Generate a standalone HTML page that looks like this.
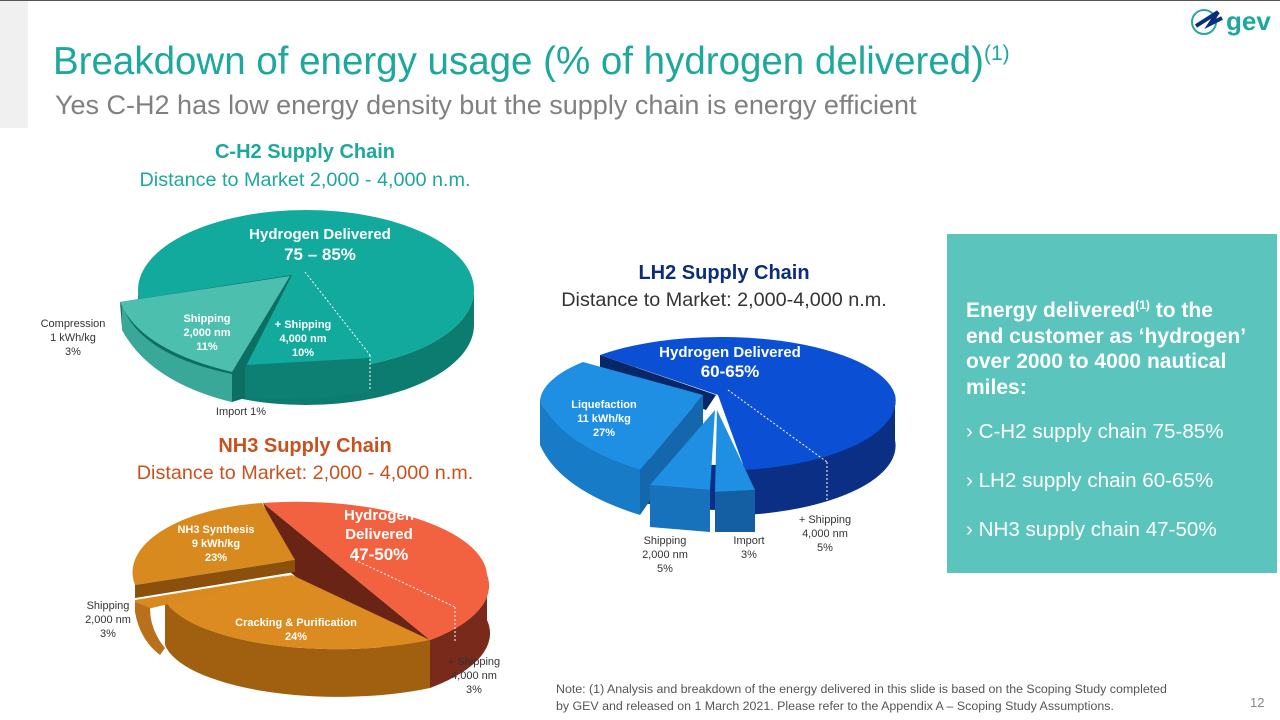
<!DOCTYPE html>
<html><head><meta charset="utf-8"><style>
body{margin:0;width:1280px;height:720px;overflow:hidden;background:#fff;font-family:"Liberation Sans",sans-serif;position:relative}
.a{position:absolute;white-space:nowrap}
</style></head><body>
<div class="a" style="left:0;top:0;width:1280px;height:1px;background:#555"></div>
<div class="a" style="left:0;top:1px;width:28px;height:127px;background:#f0f0f0"></div>
<div class="a" style="left:53px;top:40px;font-size:38.5px;color:#1ca89c">Breakdown of energy usage (% of hydrogen delivered)<sup style="font-size:21px">(1)</sup></div>
<div class="a" style="left:55px;top:90px;font-size:27px;color:#808080">Yes C-H2 has low energy density but the supply chain is energy efficient</div>
<svg class="a" style="left:1188px;top:4px" width="90" height="36"><circle cx="16" cy="18" r="12" fill="none" stroke="#2aa89a" stroke-width="2"/><path d="M8 22 L30 8 L22 20 L34 14" fill="none" stroke="#0b2d7a" stroke-width="4"/><text x="38" y="26" font-size="26" font-weight="bold" fill="#1ca89c" font-family="Liberation Sans">gev</text></svg>

<div class="a" style="left:0;width:610px;top:141px;text-align:center;font-size:20px;font-weight:bold;color:#1ca89c">C-H2 Supply Chain</div>
<div class="a" style="left:0;width:610px;top:169px;text-align:center;font-size:19.8px;color:#1ca89c">Distance to Market 2,000 - 4,000 n.m.</div>
<div class="a" style="left:424px;width:600px;top:262px;text-align:center;font-size:20px;font-weight:bold;color:#0b2d7a">LH2 Supply Chain</div>
<div class="a" style="left:424px;width:600px;top:289px;text-align:center;font-size:19.8px;color:#333">Distance to Market: 2,000-4,000 n.m.</div>
<div class="a" style="left:0;width:610px;top:435px;text-align:center;font-size:20px;font-weight:bold;color:#c8521e">NH3 Supply Chain</div>
<div class="a" style="left:0;width:610px;top:462px;text-align:center;font-size:19.8px;color:#c8521e">Distance to Market: 2,000 - 4,000 n.m.</div>

<svg class="a" style="left:0;top:0" width="940" height="720" font-family="Liberation Sans">
<!-- C-H2 -->
<path d="M138 290 A168 80 0 0 0 474 290 L474 325 A168 80 0 0 1 138 325Z" fill="#0c7c70"/>
<ellipse cx="306" cy="290" rx="168" ry="80" fill="#12aa9c"/>
<path d="M245 365 L245 398 Q300 402 370 392 L370 358Z" fill="#0d7f73"/>
<path d="M292 275 L120 302 L122 328 Q150 382 232 402 L245 398 L245 368 Z" fill="#0d6e64"/>
<path d="M290 276 L120 302 Q140 350 232 372 Z" fill="#4cbfae"/>
<path d="M122 305 Q140 355 232 374 L232 402 Q150 382 122 330Z" fill="#3aa898"/>
<line x1="305" y1="272" x2="370" y2="355" stroke="#fff" stroke-dasharray="2,2"/>
<line x1="370" y1="355" x2="370" y2="390" stroke="#fff" stroke-dasharray="2,2"/>
<text x="320" y="239" font-size="15" font-weight="bold" fill="#fff" text-anchor="middle">Hydrogen Delivered</text>
<text x="320" y="260" font-size="17" font-weight="bold" fill="#fff" text-anchor="middle">75 – 85%</text>
<g font-size="11" font-weight="bold" fill="#fff" text-anchor="middle"><text x="207" y="322">Shipping</text><text x="207" y="336">2,000 nm</text><text x="207" y="350">11%</text>
<text x="303" y="328">+ Shipping</text><text x="303" y="342">4,000 nm</text><text x="303" y="356">10%</text></g>
<g font-size="11" fill="#333" text-anchor="middle"><text x="73" y="327">Compression</text><text x="73" y="341">1 kWh/kg</text><text x="73" y="355">3%</text><text x="241" y="415">Import 1%</text></g>
<!-- LH2 -->
<path d="M545 395 A175 70 0 0 0 895 395 L895 440 A175 70 0 0 1 545 440Z" fill="#0a2f85"/>
<path d="M718 395 L600 355 A175 65 0 0 1 895 395 A175 70 0 0 1 745 470 Z" fill="#0b50d4"/>
<path d="M745 470 L745 515 A175 70 0 0 0 895 440 L895 395 A175 70 0 0 1 745 470Z" fill="#0a2f85"/>
<path d="M716 395 L600 355 L600 372 L706 410Z" fill="#082768"/>
<path d="M703 395 L583 362 A160 60 0 0 0 540 400 Q560 445 640 470 Z" fill="#1f8fe3"/>
<path d="M540 400 Q560 445 640 470 L640 515 Q560 490 540 445Z" fill="#177bc8"/>
<path d="M640 470 L703 395 L703 425 L640 515Z" fill="#1567ad"/>
<path d="M715 410 L650 485 L710 490 Z" fill="#1f8fe3"/>
<path d="M650 485 L710 490 L710 532 L650 527Z" fill="#1771bb"/>
<path d="M717 410 L715 492 L755 490 Z" fill="#1f8fe3"/>
<path d="M715 492 L755 490 L755 532 L715 532Z" fill="#145fa3"/>
<line x1="728" y1="390" x2="827" y2="462" stroke="#fff" stroke-dasharray="2,2"/>
<line x1="827" y1="462" x2="827" y2="500" stroke="#fff" stroke-dasharray="2,2"/>
<text x="730" y="357" font-size="15" font-weight="bold" fill="#fff" text-anchor="middle">Hydrogen Delivered</text>
<text x="730" y="377" font-size="17" font-weight="bold" fill="#fff" text-anchor="middle">60-65%</text>
<g font-size="11" font-weight="bold" fill="#fff" text-anchor="middle"><text x="604" y="408">Liquefaction</text><text x="604" y="422">11 kWh/kg</text><text x="604" y="436">27%</text></g>
<g font-size="11" fill="#333" text-anchor="middle"><text x="665" y="544">Shipping</text><text x="665" y="558">2,000 nm</text><text x="665" y="572">5%</text><text x="749" y="544">Import</text><text x="749" y="558">3%</text><text x="825" y="523">+ Shipping</text><text x="825" y="537">4,000 nm</text><text x="825" y="551">5%</text></g>
<!-- NH3 -->
<path d="M263 503 L430 640 L430 688 L290 572 Z" fill="#6a2416"/>
<path d="M487 575 A190 75 0 0 1 430 640 L430 688 A190 75 0 0 0 487 620Z" fill="#7a2a1a"/>
<path d="M263 503 A190 75 0 0 1 487 575 A190 75 0 0 1 430 640 Z" fill="#f36240"/>
<path d="M165 600 A175 60 0 0 0 430 640 L430 688 A175 60 0 0 1 165 645Z" fill="#a0600f"/>
<path d="M292 575 L430 640 A175 60 0 0 1 165 600 Z" fill="#dc8b20"/>
<path d="M262 503 L295 560 L135 585 A150 70 0 0 1 262 503Z" fill="#d98a1e"/>
<path d="M135 585 L295 560 L295 572 L135 598Z" fill="#8a500c"/>
<path d="M290 575 L135 600 L135 612 Z" fill="#d98a1e"/>
<path d="M135 602 L135 612 Q140 640 160 655 L165 648 Q150 630 150 608Z" fill="#b8701a"/>
<line x1="355" y1="560" x2="455" y2="607" stroke="#fff" stroke-dasharray="2,2"/>
<line x1="455" y1="607" x2="455" y2="643" stroke="#fff" stroke-dasharray="2,2"/>
<g font-weight="bold" fill="#fff" text-anchor="middle"><text x="379" y="520" font-size="15">Hydrogen</text><text x="379" y="539" font-size="15">Delivered</text><text x="379" y="560" font-size="17">47-50%</text>
<text x="216" y="533" font-size="11">NH3 Synthesis</text><text x="216" y="547" font-size="11">9 kWh/kg</text><text x="216" y="561" font-size="11">23%</text>
<text x="296" y="626" font-size="11">Cracking &amp; Purification</text><text x="296" y="640" font-size="11">24%</text></g>
<g font-size="11" fill="#333" text-anchor="middle"><text x="108" y="609">Shipping</text><text x="108" y="623">2,000 nm</text><text x="108" y="637">3%</text><text x="474" y="665">+ Shipping</text><text x="474" y="679">4,000 nm</text><text x="474" y="693">3%</text></g>
</svg>

<div class="a" style="left:947px;top:234px;width:330px;height:339px;background:#5bc4bc"></div>
<div class="a" style="left:966px;top:293px;font-size:21px;font-weight:bold;color:#fff;line-height:25.5px">Energy delivered<sup style="font-size:12px">(1)</sup> to the<br>end customer as ‘hydrogen’<br>over 2000 to 4000 nautical<br>miles:</div>
<div class="a" style="left:966px;top:420px;font-size:20.6px;color:#fff">› C-H2 supply chain 75-85%</div>
<div class="a" style="left:966px;top:469px;font-size:20.6px;color:#fff">› LH2 supply chain 60-65%</div>
<div class="a" style="left:966px;top:518px;font-size:20.6px;color:#fff">› NH3 supply chain 47-50%</div>
<div class="a" style="left:556px;top:681px;font-size:12.4px;color:#555;line-height:17px">Note: (1) Analysis and breakdown of the energy delivered in this slide is based on the Scoping Study completed<br>by GEV and released on 1 March 2021. Please refer to the Appendix A – Scoping Study Assumptions.</div>
<div class="a" style="left:1250px;top:695px;font-size:13px;color:#888">12</div>
</body></html>
